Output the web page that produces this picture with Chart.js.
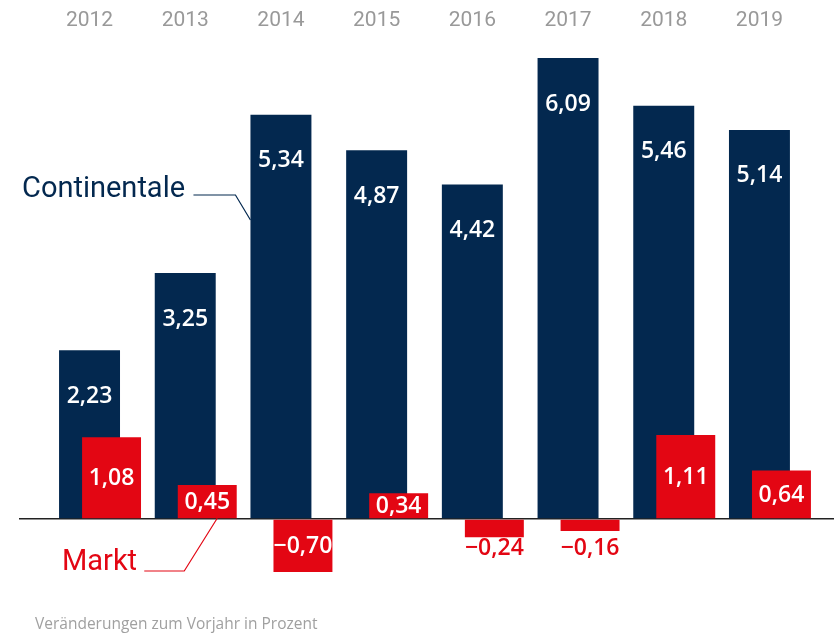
<!DOCTYPE html>
<html>
<head>
<meta charset="utf-8">
<script src="https://cdn.jsdelivr.net/npm/chart.js@4.4.1/dist/chart.umd.min.js"></script>
<style>
  body { margin: 0; background: #fff; }
  #wrap { position: relative; width: 834px; height: 634px; }
  #note {
    position: absolute; left: 35px; top: 612px;
    font: 15.5px "Open Sans", sans-serif; color: #a0a0a0;
  }
</style>
</head>
<body>
<div id="wrap">
  <canvas id="myChart"></canvas>
  <div id="note">Veränderungen zum Vorjahr in Prozent</div>
</div>
<script>
const years = [2012, 2013, 2014, 2015, 2016, 2017, 2018, 2019];
const continentale = [2.23, 3.25, 5.34, 4.87, 4.42, 6.09, 5.46, 5.14];
const markt = [1.08, 0.45, -0.70, 0.34, -0.24, -0.16, 1.11, 0.64];

const navy = "#03284f";
const red = "#e30613";
const grey = "#999999";

// axis window: first category sits 0.737 steps in, Markt bars sit 0.23 steps right
const xMin = 2011.263;
const xMax = 2019.779;
const marktShift = 0.23;

const fmt = (v) => (v < 0 ? "\u2212" : "") + Math.abs(v).toFixed(2).replace(".", ",");

const valueLabels = {
  id: "valueLabels",
  afterDatasetsDraw(chart) {
    const ctx = chart.ctx;
    ctx.save();
    ctx.font = '600 23px "Open Sans", sans-serif';
    ctx.textAlign = "center";
    ctx.textBaseline = "middle";

    chart.getDatasetMeta(1).data.forEach((bar, i) => {
      ctx.fillStyle = "#fff";
      ctx.fillText(fmt(continentale[i]), bar.x, bar.y + 46);
    });

    chart.getDatasetMeta(0).data.forEach((bar, i) => {
      const h = Math.abs(bar.base - bar.y);
      if (markt[i] < 0 && h < 30) {
        // short negative bars get their label underneath
        ctx.fillStyle = red;
        ctx.fillText(fmt(markt[i]), bar.x, bar.base + 29);
      } else {
        ctx.fillStyle = "#fff";
        ctx.fillText(fmt(markt[i]), bar.x, (bar.y + bar.base) / 2 + 1);
      }
    });
    ctx.restore();
  },
  afterDraw(chart) {
    const ctx = chart.ctx;
    const contBar = chart.getDatasetMeta(1).data[2];
    const marktBar = chart.getDatasetMeta(0).data[1];
    ctx.save();
    ctx.font = '29px Roboto, sans-serif';
    ctx.textBaseline = "alphabetic";
    ctx.textAlign = "left";

    // Continentale callout
    ctx.fillStyle = navy;
    ctx.fillText("Continentale", 22, 197);
    let left = contBar.x - contBar.width / 2;
    ctx.strokeStyle = navy;
    ctx.lineWidth = 1.2;
    ctx.beginPath();
    ctx.moveTo(left - 57, 195);
    ctx.lineTo(left - 15, 195);
    ctx.lineTo(left, 220);
    ctx.stroke();

    // Markt callout
    ctx.fillStyle = red;
    ctx.fillText("Markt", 62, 570);
    let endX = marktBar.x + 10;
    ctx.strokeStyle = red;
    ctx.beginPath();
    ctx.moveTo(endX - 73, 571);
    ctx.lineTo(endX - 33, 571);
    ctx.lineTo(endX, marktBar.base);
    ctx.stroke();
    ctx.restore();
  },
};

const myChart = new Chart(document.getElementById("myChart"), {
  type: "bar",
  data: {
    labels: years,
    datasets: [
      {
        label: "Markt",
        data: markt,
        xAxisID: "x2",
        backgroundColor: red,
        grouped: false,
        barPercentage: 0.637,
        categoryPercentage: 1,
      },
      {
        label: "Continentale",
        data: continentale,
        xAxisID: "x",
        backgroundColor: navy,
        grouped: false,
        barPercentage: 0.637,
        categoryPercentage: 1,
      },
    ],
  },
  options: {
    responsive: true,
    maintainAspectRatio: false,
    animation: false,
    layout: { padding: { left: 19, right: 0, top: 0, bottom: 50.7 } },
    plugins: {
      legend: { display: false },
      tooltip: { enabled: false },
    },
    scales: {
      x: {
        type: "linear",
        position: "top",
        min: xMin,
        max: xMax,
        offset: false,
        grid: { display: false, drawTicks: false },
        border: { display: false },
        afterBuildTicks: (scale) => {
          scale.ticks = years.map((y) => ({ value: y }));
        },
        afterFit: (scale) => {
          scale.height = 45;
        },
        ticks: {
          padding: 12,
          autoSkip: false,
          maxRotation: 0,
          color: grey,
          font: { family: "Roboto", size: 21, weight: "400" },
          callback: (v) => String(v),
        },
      },
      x2: {
        type: "linear",
        display: false,
        min: xMin - marktShift,
        max: xMax - marktShift,
        offset: false,
      },
      y: {
        min: -0.85,
        max: 6.262,
        afterBuildTicks: (scale) => {
          scale.ticks = [{ value: 0 }];
        },
        afterFit: (scale) => {
          scale.width = 0;
        },
        grid: { color: "#222", lineWidth: 1.5, drawTicks: false },
        border: { display: false },
        ticks: { display: false },
      },
    },
  },
  plugins: [valueLabels],
});
</script>
</body>
</html>
